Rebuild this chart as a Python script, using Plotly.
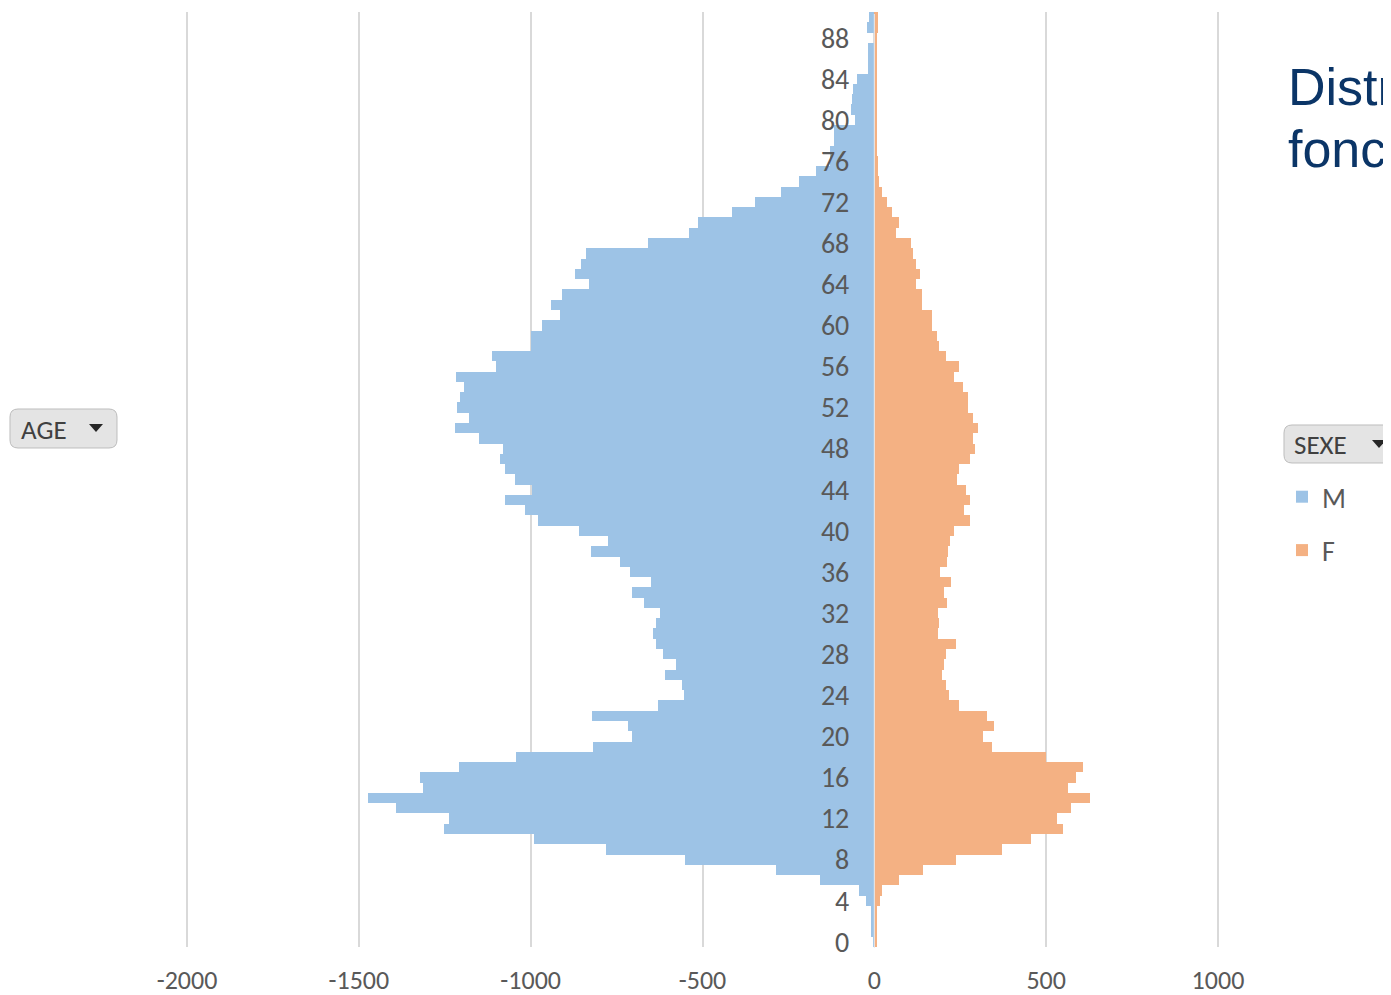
import plotly.graph_objects as go

# ---------------- data ----------------
ages = list(range(0, 91))
male = [-5, -10, -10, -10, -23, -44, -157, -287, -552, -780,
        -990, -1251, -1238, -1391, -1474, -1312, -1321, -1209, -1043, -820,
        -704, -718, -822, -629, -555, -561, -608, -576, -616, -636,
        -643, -636, -624, -671, -704, -651, -712, -741, -824, -776,
        -860, -980, -1017, -1075, -995, -1046, -1075, -1090, -1082, -1150,
        -1220, -1180, -1213, -1206, -1194, -1218, -1102, -1114, -1000, -1000,
        -968, -915, -940, -908, -831, -872, -853, -838, -658, -540,
        -512, -414, -346, -273, -220, -171, -130, -130, -116, -116,
        -55, -68, -65, -62, -50, -18, -17, -17, 0, -20,
        -15]
female = [8, 8, 8, 8, 17, 23, 73, 141, 238, 371,
          455, 550, 531, 572, 628, 565, 586, 606, 500, 343,
          316, 349, 327, 245, 217, 209, 197, 202, 209, 238,
          184, 189, 184, 211, 203, 224, 190, 211, 213, 219,
          233, 279, 260, 279, 266, 240, 246, 279, 294, 287,
          301, 287, 273, 273, 259, 233, 245, 210, 189, 183,
          169, 169, 140, 140, 121, 134, 120, 112, 107, 64,
          73, 51, 37, 23, 15, 10, 10, 9, 9, 9,
          9, 9, 9, 9, 9, 9, 9, 9, 9, 10,
          12]
x_ticks = [-2000, -1500, -1000, -500, 0, 500, 1000]
y_ticks = list(range(0, 89, 4))
series_names = ["M", "F"]
title_lines = ["Distribution des âges en", "fonction du sexe"]

# ---------------- layout helpers ----------------
OFF = 8                      # page body margin
W, H = 1391 - OFF, 995 - OFF
L, R, T, B = 178, 172, 4, 48
PW = W - L - R
PH = H - T - B
PLOT_LEFT = OFF + L
PLOT_BOTTOM = OFF + H - B


def px(x):   # page pixel -> paper fraction
    return (x - PLOT_LEFT) / PW


def py(y):
    return (PLOT_BOTTOM - y) / PH


def rrect(x0, y0, x1, y1, r):
    pts = [
        ("M", px(x0 + r), py(y0)),
        ("L", px(x1 - r), py(y0)),
        ("Q", px(x1), py(y0), px(x1), py(y0 + r)),
        ("L", px(x1), py(y1 - r)),
        ("Q", px(x1), py(y1), px(x1 - r), py(y1)),
        ("L", px(x0 + r), py(y1)),
        ("Q", px(x0), py(y1), px(x0), py(y1 - r)),
        ("L", px(x0), py(y0 + r)),
        ("Q", px(x0), py(y0), px(x0 + r), py(y0)),
    ]
    s = ""
    for p in pts:
        s += p[0] + " " + " ".join(f"{v:.5f}" for v in p[1:]) + " "
    return s + "Z"


def tri(cx, cy, w, h):
    return (f"M {px(cx - w / 2):.5f} {py(cy - h / 2):.5f} "
            f"L {px(cx + w / 2):.5f} {py(cy - h / 2):.5f} "
            f"L {px(cx):.5f} {py(cy + h / 2):.5f} Z")


FONT = "Carlito, 'Liberation Sans', Arial, sans-serif"
GREY = "#595959"

fig = go.Figure()
fig.add_trace(go.Bar(y=ages, x=male, orientation="h", name=series_names[0],
                     legendgroup="m",
                     marker=dict(color="#9DC3E6", line=dict(width=0))))
fig.add_trace(go.Bar(y=ages, x=female, orientation="h", name=series_names[1],
                     legendgroup="f",
                     marker=dict(color="#F4B183", line=dict(width=0))))

XR = [-2003, 1003]
zero_pos = (0 - XR[0]) / (XR[1] - XR[0])

fig.update_layout(
    width=W, height=H,
    margin=dict(l=L, r=R, t=T, b=B, pad=0, autoexpand=False),
    paper_bgcolor="white", plot_bgcolor="white",
    barmode="relative", bargap=0,
    font=dict(family=FONT, color=GREY, size=28),
    xaxis=dict(range=XR, tickvals=x_ticks,
               ticktext=[str(v) for v in x_ticks],
               showgrid=True, gridcolor="#D9D9D9", gridwidth=1.5,
               zeroline=False, showline=False, ticks="",
               automargin=False, ticklabelstandoff=15,
               tickfont=dict(family=FONT, size=26, color=GREY)),
    yaxis=dict(range=[-0.5, 90.5], tickvals=y_ticks,
               ticktext=[str(v) for v in y_ticks],
               anchor="free", position=zero_pos, side="left",
               showgrid=False, zeroline=False, showline=False, ticks="",
               automargin=False, ticklabelstandoff=25,
               tickfont=dict(family=FONT, size=28, color=GREY)),
    showlegend=True,
    legend=dict(x=px(1282), y=py(472), xanchor="left", yanchor="top",
                traceorder="grouped", tracegroupgap=14,
                font=dict(family=FONT, size=28, color=GREY),
                bgcolor="rgba(0,0,0,0)", itemwidth=30),
)

# thin separation at zero
fig.add_shape(type="line", xref="x", yref="paper", x0=0, x1=0,
              y0=py(948), y1=py(14), line=dict(color="#E4ECF4", width=1),
              layer="above")

# AGE button
fig.add_shape(type="path", xref="paper", yref="paper",
              path=rrect(10, 409, 117, 448, 8),
              fillcolor="#E4E4E4", line=dict(color="#BDBDBD", width=1))
fig.add_annotation(xref="paper", yref="paper", x=px(19), y=py(429),
                   xanchor="left", yanchor="middle", showarrow=False,
                   text="AGE", font=dict(family=FONT, size=27, color="#404040"))
fig.add_shape(type="path", xref="paper", yref="paper", path=tri(96, 428, 14, 8),
              fillcolor="#262626", line=dict(width=0))

# SEXE button
fig.add_shape(type="path", xref="paper", yref="paper",
              path=rrect(1284, 425, 1420, 463, 8),
              fillcolor="#E4E4E4", line=dict(color="#BDBDBD", width=1))
fig.add_annotation(xref="paper", yref="paper", x=px(1292), y=py(444),
                   xanchor="left", yanchor="middle", showarrow=False,
                   text="SEXE", font=dict(family=FONT, size=27, color="#404040"))
fig.add_shape(type="path", xref="paper", yref="paper", path=tri(1379, 444, 14, 8),
              fillcolor="#262626", line=dict(width=0))

# Title (clipped at right edge, as in the reference)
fig.add_annotation(xref="paper", yref="paper", x=px(1286), y=py(87),
                   xanchor="left", yanchor="middle", showarrow=False,
                   text=title_lines[0],
                   font=dict(family="'Liberation Sans', Arial, sans-serif",
                             size=52, color="#0B3567"))
fig.add_annotation(xref="paper", yref="paper", x=px(1286), y=py(149),
                   xanchor="left", yanchor="middle", showarrow=False,
                   text=title_lines[1],
                   font=dict(family="'Liberation Sans', Arial, sans-serif",
                             size=52, color="#0B3567"))

fig.write_html("out.html")
